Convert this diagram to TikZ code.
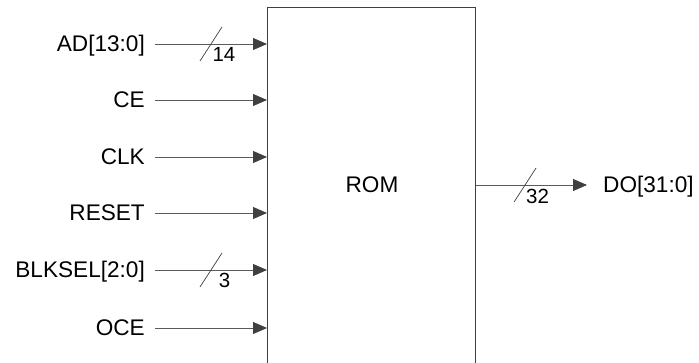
\documentclass[tikz,border=0pt]{standalone}
\usepackage{fontspec}
\setmainfont{Liberation Sans}
\usetikzlibrary{arrows.meta,calc,positioning}
\definecolor{wire}{HTML}{5A5A5A}
\definecolor{edgegray}{HTML}{404040}
\tikzset{
  lbl/.style={inner sep=0pt,text height=16pt,text depth=0pt},
  num/.style={inner sep=0pt,font=\fontsize{20.5}{24}\selectfont},
  sig/.style={draw=wire,line width=0.9pt,-{Triangle[length=14pt,width=12pt,color=edgegray]}},
  bus/.style={draw=edgegray,line width=0.7pt}
}

\begin{document}
\begin{tikzpicture}[x=1pt,y=-1pt,font=\fontsize{22.6}{26}\selectfont]
\useasboundingbox (0,0) rectangle (699,363);
\clip (0,0) rectangle (699,363);
% the memory block (runs off the bottom)
\node[draw=edgegray,line width=1.4pt,minimum width=208pt,minimum height=380pt,inner sep=0pt,anchor=north west] (rom) at (267,7) {};
\node[lbl] (romname) at (372,185) {ROM};
% inputs
\node[lbl,anchor=east] (ad) at (145,44) {AD[13:0]};
\node[lbl,anchor=east] (ce) at (145,100) {CE};
\node[lbl,anchor=east] (clk) at (145,157) {CLK};
\node[lbl,anchor=east] (reset) at (145,213) {RESET};
\node[lbl,anchor=east] (blksel) at (145,270) {BLKSEL[2:0]};
\node[lbl,anchor=east] (oce) at (145,328) {OCE};
% output
\node[lbl,anchor=west] (do) at (603,185) {DO[31:0]};
\path
([xshift=10pt]ad.east) edge[sig] coordinate[midway] (adbus) (ad -| rom.west)
([xshift=10pt]ce.east) edge[sig] (ce -| rom.west)
([xshift=10pt]clk.east) edge[sig] (clk -| rom.west)
([xshift=10pt]reset.east) edge[sig] (reset -| rom.west)
([xshift=10pt]blksel.east) edge[sig] coordinate[midway] (blkbus) (blksel -| rom.west)
([xshift=10pt]oce.east) edge[sig] (oce -| rom.west)
(do -| rom.east) edge[sig] coordinate[pos=0.44] (dobus) ([xshift=-16pt]do.west);
% bus widths
\draw[bus] ($(adbus)+(-11,17)$) -- ($(adbus)+(11,-17)$);
\node[num] (adw) at ($(adbus)+(13,10)$) {14};
\draw[bus] ($(blkbus)+(-11,17)$) -- ($(blkbus)+(11,-17)$);
\node[num] (blkw) at ($(blkbus)+(13.5,10)$) {3};
\draw[bus] ($(dobus)+(-11,17)$) -- ($(dobus)+(11,-17)$);
\node[num] (dow) at ($(dobus)+(12.5,11)$) {32};
\end{tikzpicture}
\end{document}
